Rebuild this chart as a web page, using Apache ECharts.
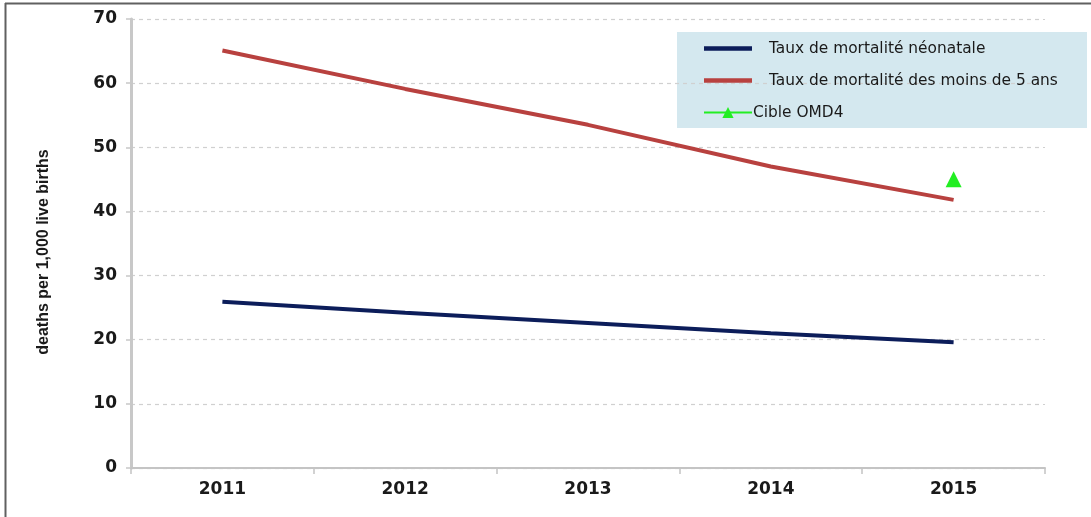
<!DOCTYPE html>
<html>
<head>
<meta charset="utf-8">
<script src="https://cdn.jsdelivr.net/npm/echarts@6/dist/echarts.min.js"></script>
<style>
html,body{margin:0;padding:0;background:#fff;}
#chart{width:1091px;height:517px;}
</style>
</head>
<body>
<div id="chart"></div>
<script>
const years = ['2011', '2012', '2013', '2014', '2015'];
const neonatal = [25.9, 24.2, 22.6, 21.0, 19.6];
const under5 = [65.1, 59.1, 53.5, 47.0, 41.8];
const target = [null, null, null, null, 45];
const seriesNames = ['Taux de mortalité néonatale', 'Taux de mortalité des moins de 5 ans', 'Cible OMD4'];
const yTitle = 'deaths per 1,000 live births';

const chart = echarts.init(document.getElementById('chart'));
chart.setOption({
  animation: false,
  backgroundColor: '#ffffff',
  grid: { left: 131, right: 46, top: 19, bottom: 49 },
  graphic: [
    { type: 'rect', left: 677, top: 32, z: 0, shape: { width: 410, height: 96 }, style: { fill: '#d4e8ef' } },
    { type: 'line', z: 10, shape: { x1: 5, y1: 3.5, x2: 1091, y2: 3.5 }, style: { stroke: '#606060', lineWidth: 2 } },
    { type: 'line', z: 10, shape: { x1: 5.5, y1: 3, x2: 5.5, y2: 517 }, style: { stroke: '#606060', lineWidth: 2 } },
    {
      type: 'text', x: 44, y: 252, rotation: Math.PI / 2, z: 10,
      style: {
        text: yTitle, textAlign: 'center', textVerticalAlign: 'middle',
        font: 'bold 16px "Liberation Sans", Arial, sans-serif', fill: '#1a1a1a'
      }
    }
  ],
  legend: {
    orient: 'vertical',
    left: 677,
    top: 32,
    z: 5,
    padding: [9, 20, 8, 26],
    itemWidth: 48,
    itemHeight: 14,
    itemGap: 17,
    textStyle: { fontFamily: 'DejaVu Sans', fontSize: 15.4, color: '#1a1a1a' },
    data: [
      { name: seriesNames[0], icon: 'path://M0,4.8 L48,4.8 L48,9.2 L0,9.2 Z', textStyle: { padding: [0, 0, 0, 12] } },
      { name: seriesNames[1], icon: 'path://M0,4.8 L48,4.8 L48,9.2 L0,9.2 Z', textStyle: { padding: [0, 0, 0, 12] } },
      { name: seriesNames[2], textStyle: { padding: [0, 0, 0, -4] } }
    ]
  },
  xAxis: {
    type: 'category',
    data: years,
    boundaryGap: true,
    axisLine: { lineStyle: { color: '#c4c4c4', width: 2 } },
    axisTick: { show: true, length: 6, lineStyle: { color: '#c4c4c4', width: 1.5 } },
    axisLabel: { fontFamily: 'DejaVu Sans', fontWeight: 'bold', fontSize: 17, color: '#1a1a1a', margin: 13 },
    splitLine: { show: false }
  },
  yAxis: {
    type: 'value',
    min: 0, max: 70, interval: 10,
    axisLine: { show: true, lineStyle: { color: '#c8c8c8', width: 3 } },
    axisTick: { show: true, length: 5, lineStyle: { color: '#c8c8c8', width: 1.5 } },
    axisLabel: { fontFamily: 'DejaVu Sans', fontWeight: 'bold', fontSize: 17, color: '#1a1a1a', margin: 14 },
    splitLine: { show: true, lineStyle: { color: '#d0d0d0', type: [4, 4], width: 1.2 } }
  },
  series: [
    {
      name: seriesNames[0], type: 'line', data: neonatal,
      symbol: 'none', color: '#0c1d5a',
      lineStyle: { width: 4, color: '#0c1d5a' }
    },
    {
      name: seriesNames[1], type: 'line', data: under5,
      symbol: 'none', color: '#b8413f',
      lineStyle: { width: 4, color: '#b8413f' }
    },
    {
      name: seriesNames[2], type: 'line', data: target,
      symbol: 'triangle', symbolSize: 16, color: '#22ee22',
      itemStyle: { color: '#22ee22' },
      lineStyle: { width: 3, color: '#22ee22' }
    }
  ]
});
</script>
</body>
</html>
